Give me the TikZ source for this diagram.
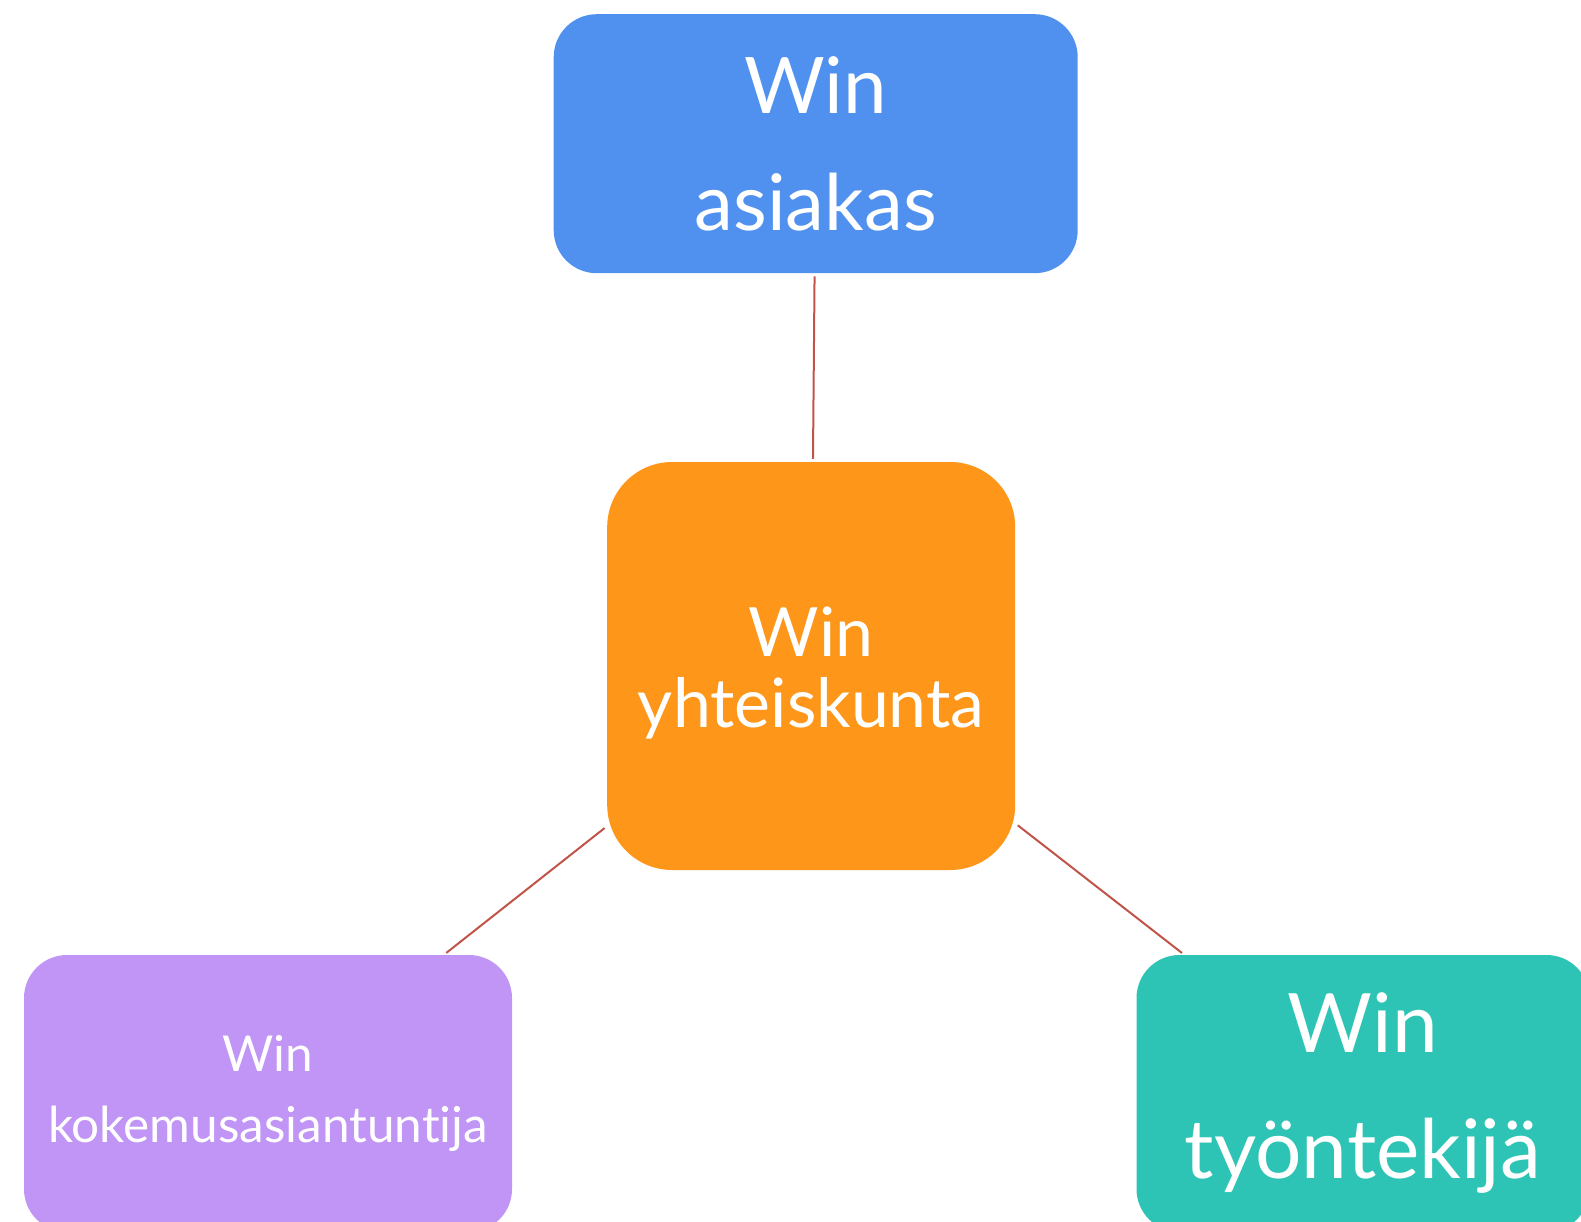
\documentclass[tikz,border=0pt]{standalone}
\usepackage{fontspec}
\setmainfont{Lato}[Ligatures={NoCommon}]
\definecolor{winblue}{RGB}{80,145,240}
\definecolor{winorange}{RGB}{253,150,25}
\definecolor{winpurple}{RGB}{193,149,245}
\definecolor{winteal}{RGB}{46,196,181}
\definecolor{tieline}{RGB}{192,84,72}

\begin{document}
\begin{tikzpicture}[x=1pt,y=-1pt,
  winbox/.style={rounded corners=43pt, text=white, align=center, inner sep=0pt},
  tie/.style={draw=tieline, line width=2pt, shorten >=3pt, shorten <=3pt}]
  %\draw[step=100pt,gray,very thin] (0,0) grid (1581,1222);
  \useasboundingbox (0,0) rectangle (1581,1222);

  \node[winbox, fill=winblue, minimum width=524pt, minimum height=259pt,
        font=\fontsize{78}{117}\selectfont] (asiakas) at (815.7,143.7) {Win\\asiakas};
  \node[winbox, fill=winorange, rounded corners=65pt, minimum width=408pt, minimum height=408pt,
        font=\fontsize{68}{71}\selectfont] (yhteiskunta) at (811.2,666) {{}\\[-8pt]Win\\yhteiskunta};
  \node[winbox, fill=winpurple, minimum width=488pt, minimum height=277pt,
        font=\fontsize{49.5}{71}\selectfont] (kokemus) at (268,1093.5) {Win\\kokemusasiantuntija};
  \node[winbox, fill=winteal, minimum width=453pt, minimum height=277pt,
        font=\fontsize{82}{126}\selectfont] (tyontekija) at (1363,1093.5) {Win\\työntekijä};

  \draw[tie] (asiakas) -- (yhteiskunta);
  \draw[tie] (yhteiskunta) -- (kokemus);
  \draw[tie] (yhteiskunta) -- (tyontekija);
\end{tikzpicture}
\end{document}
